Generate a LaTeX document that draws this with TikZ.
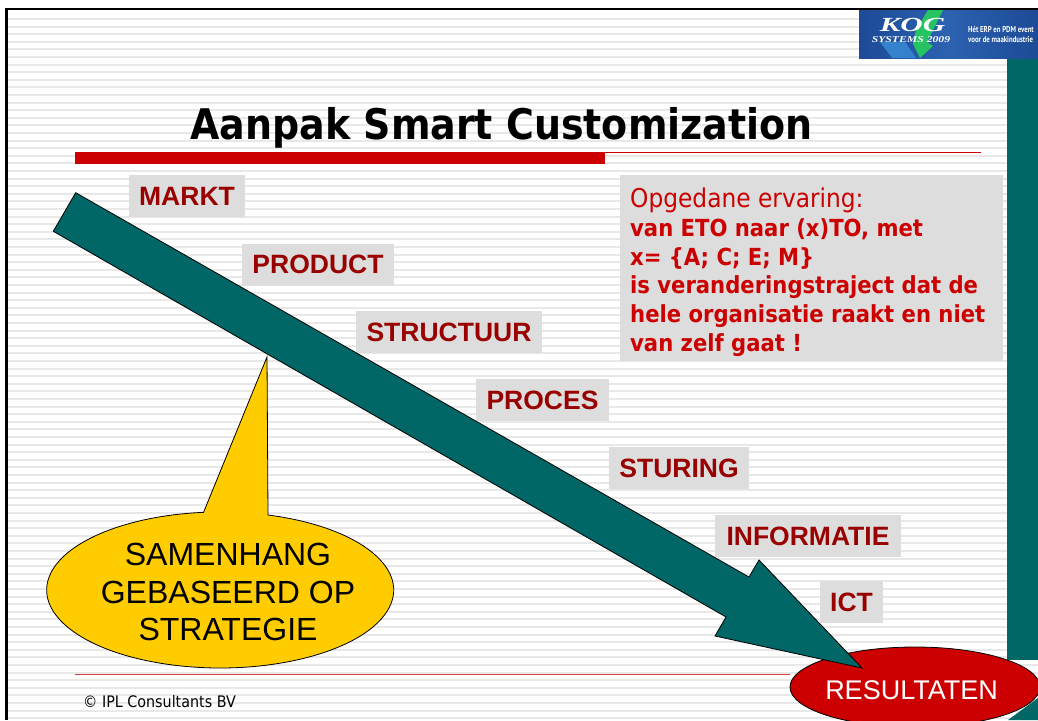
\documentclass[tikz,border=0pt]{standalone}
\usepackage{fontspec}
\setmainfont{Liberation Sans}
\newfontfamily\tahomafont{DejaVu Sans}[FakeStretch=0.9]
\newfontfamily\logofont{Liberation Serif}
\newfontfamily\narrowfont{PT Sans}
\usetikzlibrary{shapes.geometric}
\definecolor{kogteal}{HTML}{006666}
\definecolor{kogred}{HTML}{CC0000}
\definecolor{kogdark}{HTML}{990000}
\definecolor{kogyellow}{HTML}{FFCC00}
\definecolor{koggrey}{HTML}{DDDDDD}
\definecolor{kogstripe}{HTML}{E8E8E8}
\definecolor{lognavy}{HTML}{1C4A96}
\definecolor{logblue}{HTML}{2C62B0}
\tikzset{
	stap/.style={fill=koggrey, text=kogdark, inner sep=0pt, minimum height=42pt, font=\fontsize{26.5}{30}\selectfont\bfseries},
	vorm/.style={draw=black, line width=0.8pt},
	regel/.style={inner sep=0pt, anchor=base west, text=kogred, font=\tahomafont\fontsize{23.5}{28}\selectfont\bfseries},
	logotekst/.style={text=white, inner sep=0pt, anchor=base west, font=\narrowfont\fontsize{8.5}{9}\selectfont\bfseries},
}
\begin{document}
\begin{tikzpicture}[x=1pt, y=-1pt]
		\useasboundingbox (0,0) rectangle (1038,720);
		\fill[white] (0,0) rectangle (1038,720);
		
		% achtergrond
		\foreach \n in {0,...,92}
			\fill[kogstripe] (8,18+7.6*\n) rectangle (1038,20+7.6*\n);
		\fill[black] (5,8) rectangle (1038,10);
		\fill[black] (5,8) rectangle (8,720);
		\fill[kogteal] (1007,58) rectangle (1038,660);
		\fill[kogteal] (1008,720) -- (1038,698) -- (1038,720) -- cycle;
		
		% logo
		\fill[left color=lognavy, right color=lognavy, middle color=logblue] (859,10) rectangle (1038,58);
		\fill[cyan!55!blue!85] (880,42) -- (905,42) -- (916,58) -- (892,58) -- cycle;
		\fill[green!45!teal!85] (928,10) -- (943,10) -- (927,42) -- (933,46) -- (920,58) -- (913,44) -- (916,30) -- cycle;
		\node[text=white, inner sep=0pt, anchor=base, font=\logofont\fontsize{20}{20}\selectfont\itshape\bfseries] (kog) at (912.5,31) {\scalebox{1.55}[1]{KOG}};
		\node[text=white, inner sep=0pt, anchor=base, font=\logofont\fontsize{9}{9}\selectfont\itshape\bfseries] (systems) at (911,42) {\scalebox{1.3}[1]{SYSTEMS 2009}};
		\node[logotekst] (event) at (968,32) {\scalebox{0.8}[1]{Hét ERP en PDM event}};
		\node[logotekst] (industrie) at (968,42) {\scalebox{0.8}[1]{voor de maakindustrie}};
		
		% titel
		\node[inner sep=0pt, anchor=base, font=\tahomafont\fontsize{42.2}{48}\selectfont\bfseries] (titel) at (501.5,139) {Aanpak Smart Customization};
		\fill[kogred] (75,152) rectangle (605,164);
		\draw[kogred, line width=0.8pt] (605,152.5) -- (981,152.5);
		\draw[kogred!75, line width=1pt] (75,674) -- (790,674);
		\node[inner sep=0pt, anchor=base west, font=\tahomafont\fontsize{15.9}{18}\selectfont] (ipl) at (83,707) {© IPL Consultants BV};
		
		% stappen
		\node[stap, minimum width=116pt] (markt) at (187,196) {MARKT};
		\node[stap, minimum width=152pt] (product) at (318,264.5) {PRODUCT};
		\node[stap, minimum width=186pt] (structuur) at (449,332) {STRUCTUUR};
		\node[stap, minimum width=133pt] (proces) at (542.5,400) {PROCES};
		\node[stap, minimum width=140pt] (sturing) at (679,468) {STURING};
		\node[stap, minimum width=186pt] (informatie) at (808,536) {INFORMATIE};
		\node[stap, minimum width=63pt] (ict) at (851.5,602) {ICT};
		
		% ervaring
		\fill[koggrey] (620,175) rectangle (1003,361);
		\node[inner sep=0pt, anchor=base west, text=kogred, font=\tahomafont\fontsize{25.9}{28}\selectfont] (ervaring) at (630,207) {Opgedane ervaring:};
		\node[regel] (regela) at (630,236) {van ETO naar (x)TO, met};
		\node[regel] (regelb) at (630,265) {x= \{A; C; E; M\}};
		\node[regel] (regelc) at (630,293) {is veranderingstraject dat de};
		\node[regel] (regeld) at (630,322) {hele organisatie raakt en niet};
		\node[regel] (regele) at (630,351) {van zelf gaat !};
		
		% resultaten en pijl
		\node[vorm, ellipse, fill=kogred, inner sep=0pt, minimum width=250pt, minimum height=80pt] (resultaten) at (915,687) {};
		\node[inner sep=0pt, anchor=base, text=white, font=\fontsize{27}{30}\selectfont] (resultatentekst) at (911.5,699) {RESULTATEN};
		\draw[vorm, fill=kogteal] (75.7,192.7) -- (749,577) -- (759,560) -- (862,668) -- (715,636) -- (726,617) -- (53.3,231.3) -- cycle;
		
		% samenhang
		\draw[vorm, fill=kogyellow] (268,515) arc[start angle=74, end angle=-264.5, x radius=173.5pt, y radius=78pt] -- (267,357) -- cycle;
		\node[inner sep=0pt, align=center, font=\fontsize{32}{37.8}\selectfont] (samenhang) at (228,592) {SAMENHANG\hspace{9pt}\\GEBASEERD OP\\STRATEGIE};
		\end{tikzpicture}
\end{document}
